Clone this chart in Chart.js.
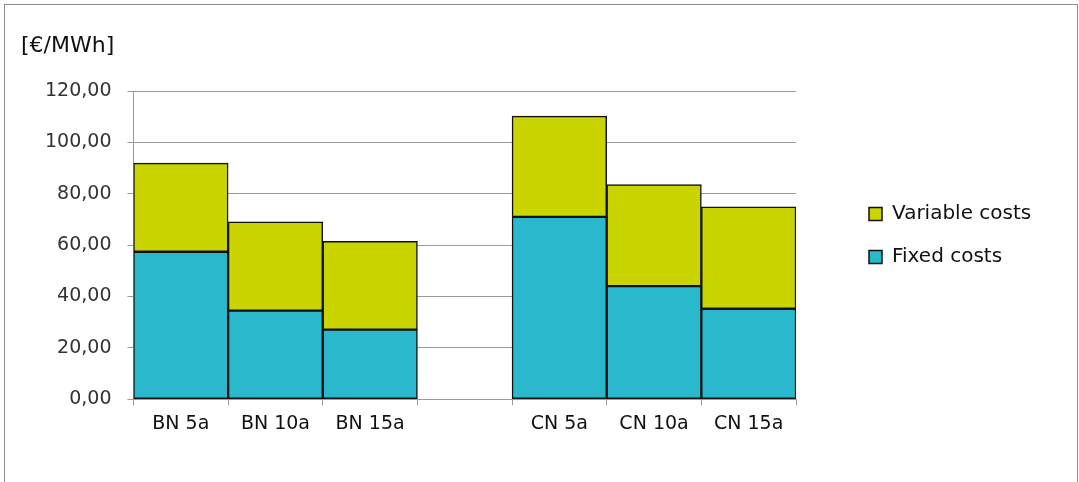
<!DOCTYPE html>
<html>
<head>
<meta charset="utf-8">
<script src="https://cdn.jsdelivr.net/npm/chart.js@4/dist/chart.umd.min.js"></script>
<style>
  html, body { margin: 0; padding: 0; background: #fff; }
  #frame {
    position: absolute; left: 4px; top: 4px; width: 1072px; height: 600px;
    border: 1px solid #8c8c8c; border-bottom: none;
  }
  #c { position: absolute; left: 0; top: 0; }
</style>
</head>
<body>
<div id="frame"></div>
<canvas id="c" width="1079" height="482"></canvas>
<script>
// Levelised cost per scenario, €/MWh
const categories = ['BN 5a', 'BN 10a', 'BN 15a', '', 'CN 5a', 'CN 10a', 'CN 15a'];
const fixedCosts = [57.4, 34.5, 27.1, null, 71.0, 44.0, 35.2];
const variableCosts = [34.5, 34.6, 34.4, null, 39.2, 39.6, 39.7];
const yMin = 0, yMax = 120, yStep = 20;
const unitLabel = '[€/MWh]';

const FONT = "'DejaVu Sans', sans-serif";
const GRID = '#9a9a9a';

// legend box geometry: reserved width and offset of the item block inside it
const LEGEND_WIDTH = 243;
const LEGEND_SHIFT_X = 50;
const LEGEND_SHIFT_Y = -31;

const unitTitle = {
  id: 'unitTitle',
  afterDraw(chart) {
    const ctx = chart.ctx;
    ctx.save();
    ctx.font = '22px ' + FONT;
    ctx.fillStyle = '#111';
    ctx.textBaseline = 'middle';
    ctx.textAlign = 'left';
    ctx.fillText(unitLabel, 21, 46);
    ctx.restore();
  }
};

const legendBox = {
  id: 'legendBox',
  afterInit(chart) {
    const lg = chart.legend;
    if (!lg) return;
    const fit = lg.fit.bind(lg);
    lg.fit = function () { fit(); this.width = LEGEND_WIDTH; };
    const draw = lg.draw.bind(lg);
    lg.draw = function () {
      const ctx = chart.ctx;
      ctx.save();
      ctx.translate(LEGEND_SHIFT_X, LEGEND_SHIFT_Y);
      draw();
      ctx.restore();
    };
  }
};

new Chart(document.getElementById('c'), {
  type: 'bar',
  data: {
    labels: categories,
    datasets: [
      {
        label: 'Fixed costs',
        data: fixedCosts,
        backgroundColor: '#2ab8cc',
        borderColor: '#111',
        borderWidth: 1.5,
        borderSkipped: false
      },
      {
        label: 'Variable costs',
        data: variableCosts,
        backgroundColor: '#c9d400',
        borderColor: '#111',
        borderWidth: 1.5,
        borderSkipped: false
      }
    ]
  },
  options: {
    responsive: false,
    animation: false,
    devicePixelRatio: 1,
    layout: { padding: { left: 29, top: 91, right: 40, bottom: 40 } },
    datasets: { bar: { categoryPercentage: 1, barPercentage: 1 } },
    scales: {
      x: {
        stacked: true,
        grid: { offset: true, drawOnChartArea: false, color: GRID, tickLength: 6 },
        border: { color: GRID },
        ticks: { color: '#111', font: { family: FONT, size: 19 }, padding: 7, maxRotation: 0 }
      },
      y: {
        stacked: true,
        min: yMin, max: yMax,
        grid: { color: GRID, tickLength: 6 },
        border: { color: GRID },
        ticks: {
          stepSize: yStep,
          color: '#333',
          padding: 16,
          font: { family: FONT, size: 19 },
          callback: v => v.toFixed(2).replace('.', ',')
        }
      }
    },
    plugins: {
      tooltip: { enabled: false },
      legend: {
        position: 'right',
        reverse: true,
        labels: {
          color: '#111',
          font: { family: FONT, size: 20 },
          boxWidth: 13, boxHeight: 13,
          padding: 23
        }
      }
    }
  },
  plugins: [unitTitle, legendBox]
});
</script>
</body>
</html>
